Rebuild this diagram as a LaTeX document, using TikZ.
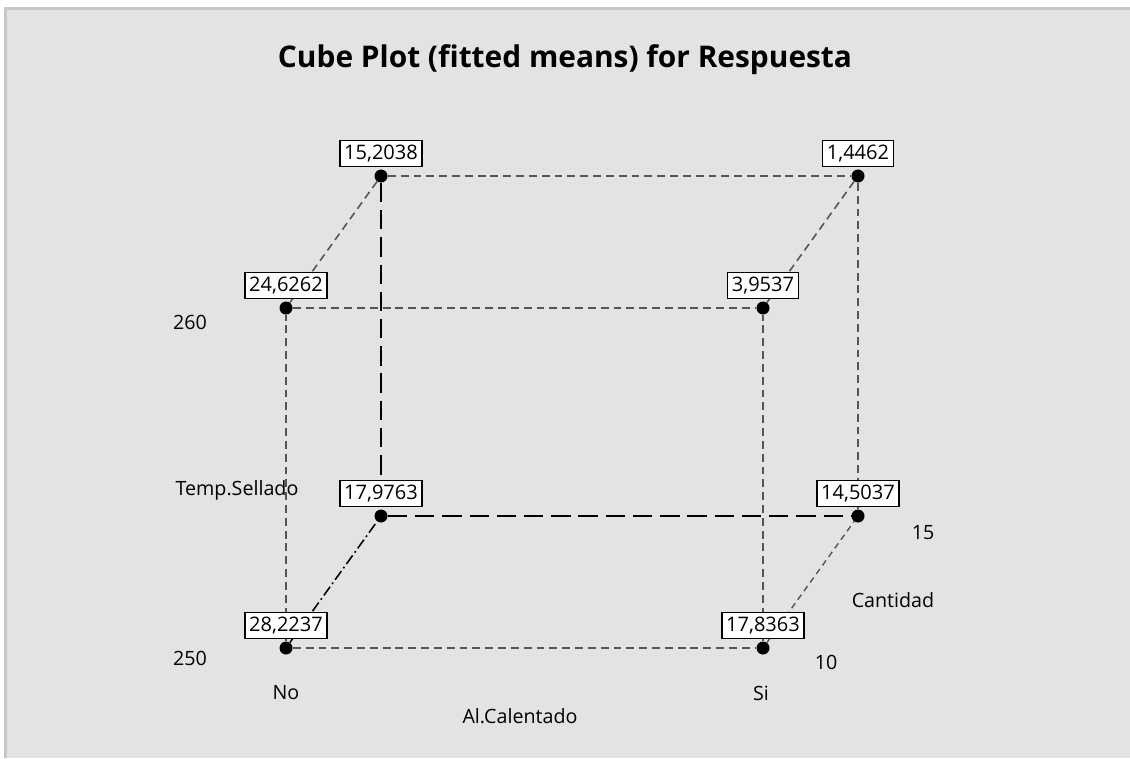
\documentclass[tikz,border=0pt]{standalone}
\usepackage{fontspec}
\setmainfont{Open Sans}
\usetikzlibrary{positioning}
\definecolor{panelgray}{HTML}{E3E3E3}
\definecolor{framegray}{HTML}{C8C8C8}
\definecolor{edgegray}{HTML}{555555}

\begin{document}
\begin{tikzpicture}[x=0.02cm,y=-0.02cm,
  corner/.style={circle,fill=black,inner sep=0pt,minimum size=7.4pt},
  mean/.style={draw,fill=white,line width=1pt,inner xsep=2.5pt,inner ysep=0pt,minimum height=14.8pt,font=\fontsize{11.4}{13}\selectfont},
  axis/.style={font=\fontsize{11.2}{13}\selectfont},
  near edge/.style={edgegray,line width=0.9pt,dash pattern=on 4.5pt off 2.8pt},
  far edge/.style={black,line width=1pt,dash pattern=on 11pt off 4.5pt},
  depth edge/.style={edgegray,line width=0.8pt,dash pattern=on 3.5pt off 2.5pt}]
  \useasboundingbox (0,0) rectangle (1130,758);
  \fill[white] (0,0) rectangle (1130,758);
  \fill[panelgray] (5,8) rectangle (1130,758);
  \draw[framegray,line width=1.2pt] (5.5,758) -- (5.5,8.5) -- (1130,8.5);

  \node[font=\fontsize{17}{20}\selectfont\bfseries] (title) at (565,60) {Cube Plot (fitted means) for Respuesta};

  % corners of the cube
  \node[corner] (nlo) at (286,648) {};
  \node[corner] (slo) at (763,648) {};
  \node[corner] (nhi) at (286,308) {};
  \node[corner] (shi) at (763,308) {};
  \node[corner] (nlo15) at (381,516) {};
  \node[corner] (slo15) at (858,516) {};
  \node[corner] (nhi15) at (381,176) {};
  \node[corner] (shi15) at (858,176) {};

  \path[near edge]
    (nlo) edge (slo)
    (nlo) edge (nhi)
    (slo) edge (shi)
    (nhi) edge (shi)
    (nhi15) edge (shi15)
    (shi15) edge (slo15)
    (nhi) edge (nhi15)
    (shi) edge (shi15);
  \path[far edge]
    (nhi15) edge (nlo15)
    (nlo15) edge (slo15);
  \draw[black,line width=0.9pt,dash pattern=on 6pt off 2pt on 1pt off 2pt] (nlo) -- (nlo15);
  \draw[depth edge] (slo) -- (slo15);

  % fitted means
  \node[mean,above=1pt of nlo] (m1) {28,2237};
  \node[mean,above=1pt of slo] (m2) {17,8363};
  \node[mean,above=1pt of nhi] (m3) {24,6262};
  \node[mean,above=1pt of shi] (m4) {3,9537};
  \node[mean,above=1pt of nlo15] (m5) {17,9763};
  \node[mean,above=1pt of slo15] (m6) {14,5037};
  \node[mean,above=1pt of nhi15] (m7) {15,2038};
  \node[mean,above=1pt of shi15] (m8) {1,4462};

  % factor levels
  \node[axis] (t260) at (190,322) {260};
  \node[axis] (t250) at (190,658) {250};
  \node[axis] (temp) at (237,490) {Temp.Sellado};
  \node[axis] (no) at (286,693) {No};
  \node[axis] (si) at (761,693) {Si};
  \node[axis] (cal) at (520,716) {Al.Calentado};
  \node[axis] (c15) at (923,533) {15};
  \node[axis] (cant) at (893,600) {Cantidad};
  \node[axis] (c10) at (826,662) {10};
\end{tikzpicture}
\end{document}
